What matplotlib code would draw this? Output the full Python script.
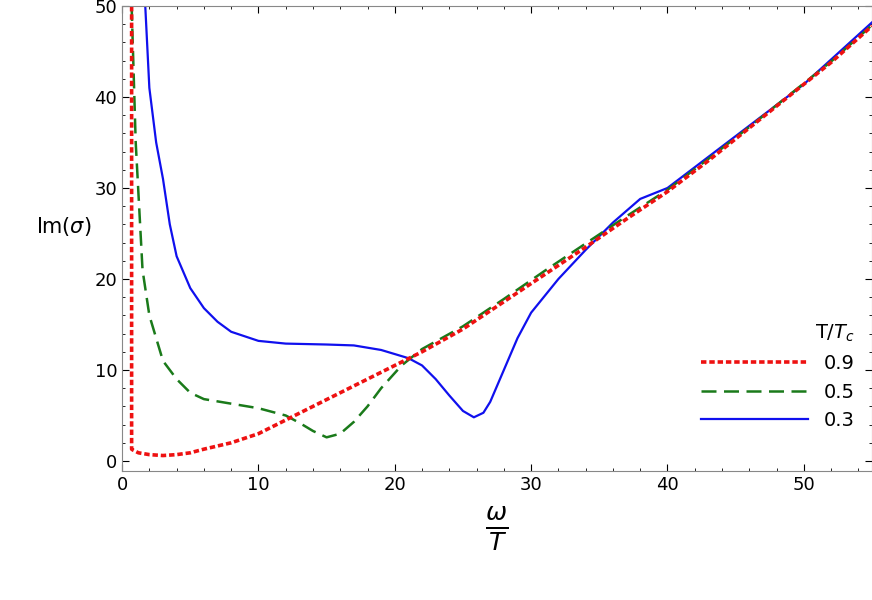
import matplotlib
matplotlib.use('Agg')
import matplotlib.pyplot as plt

# T/Tc = 0.9
x_09 = [0.7, 0.7, 0.8, 1.2, 2, 3, 4, 5, 6, 8, 10, 12, 14, 16, 18, 20, 22, 25, 28, 31, 34,
        37, 40, 43, 46, 49, 52, 55]
y_09 = [50, 1.3, 1.2, 0.9, 0.7, 0.6, 0.7, 0.9, 1.3, 2.0, 3.0, 4.5, 6.0, 7.5, 9.0, 10.5, 12.0,
        14.5, 17.5, 20.5, 23.5, 26.6, 29.6, 33.0, 36.6, 40.2, 43.8, 47.8]
# T/Tc = 0.5
x_05 = [0.7, 1.0, 1.5, 2, 3, 4, 5, 6, 8, 10, 12, 13, 14, 15, 16, 17, 18, 19, 20.5, 22, 25,
        28, 31, 34, 37, 40, 43, 46, 49, 52, 55]
y_05 = [50, 35, 21, 16, 11, 9, 7.5, 6.8, 6.3, 5.8, 5.0, 4.2, 3.3, 2.6, 3.0, 4.3, 6.0, 8.0,
        10.5, 12.3, 14.8, 17.8, 20.9, 23.9, 26.9, 29.8, 33.2, 36.7, 40.3, 43.9, 47.9]
# T/Tc = 0.3
x_03 = [1.7, 2.0, 2.5, 3, 3.5, 4, 5, 6, 7, 8, 10, 12, 15, 17, 19, 21, 22, 23, 24, 25, 25.8,
        26.5, 27, 28, 29, 30, 32, 34, 36, 38, 40, 45, 50, 55]
y_03 = [50, 41, 35, 31, 26, 22.5, 19, 16.8, 15.3, 14.2, 13.2, 12.9, 12.8, 12.7, 12.2, 11.3,
        10.5, 9.0, 7.2, 5.5, 4.8, 5.3, 6.5, 10.0, 13.5, 16.3, 20.0, 23.2, 26.2, 28.8, 30.0,
        35.7, 41.4, 48.2]

fig = plt.figure(figsize=(8.72, 6.0), dpi=100)
ax = fig.add_axes([0.14, 0.215, 0.86, 0.775])

ax.plot(x_03, y_03, color='#1010ee', lw=1.6, label='0.3')
ax.plot(x_05, y_05, color='#1a7a1a', lw=1.8, ls=(0, (6, 3)), label='0.5')
ax.plot(x_09, y_09, color='#ee1111', lw=2.6, ls=(0, (1.5, 0.8)), label='0.9')

ax.set_xlim(0, 55)
ax.set_ylim(-1.1, 50)
ax.set_xticks(range(0, 51, 10))
ax.set_yticks(range(0, 51, 10))
ax.set_xticks(range(0, 56, 2), minor=True)
ax.set_yticks(range(0, 51, 2), minor=True)
ax.tick_params(which='both', direction='in', top=True, right=True, labelsize=13)
ax.tick_params(which='major', length=5)
ax.tick_params(which='minor', length=2.5)
for s in ax.spines.values():
    s.set_color('#888888')

ax.set_ylabel(r'Im($\sigma$)', rotation=0, fontsize=15, labelpad=22)
ax.set_xlabel(r'$\frac{\omega}{T}$', fontsize=26, labelpad=8)

h, l = ax.get_legend_handles_labels()
leg = ax.legend(h[::-1], l[::-1], title=r'T/$T_c$', loc='lower right',
                bbox_to_anchor=(1.0, 0.05), frameon=False, fontsize=14,
                title_fontsize=14, handlelength=5.5)
leg._legend_box.align = 'right'

fig.savefig('out.png', dpi=100)
